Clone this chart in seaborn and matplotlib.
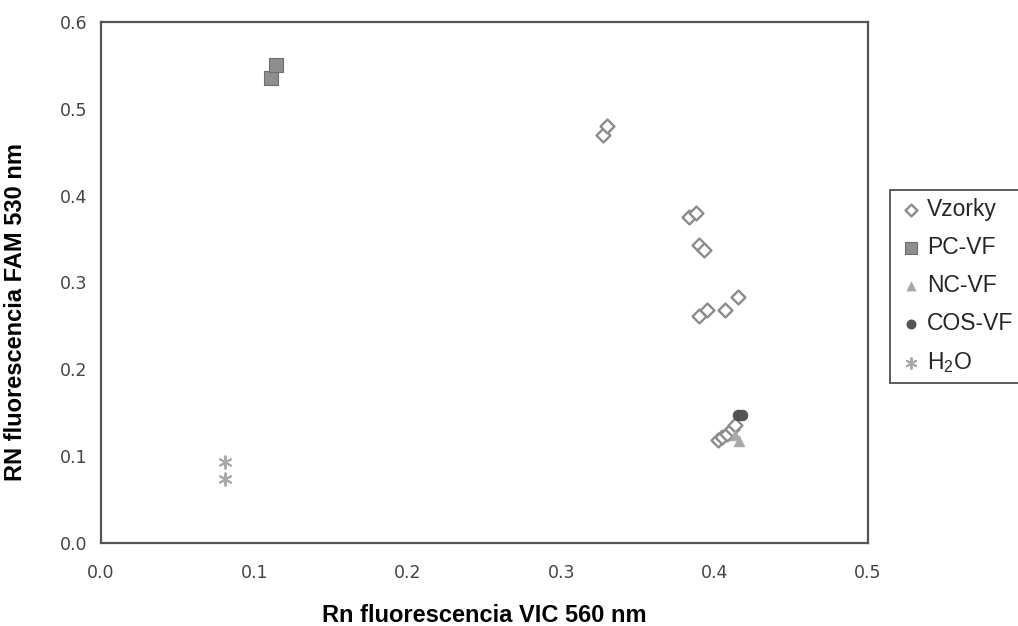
import numpy as np
import pandas as pd
import matplotlib
matplotlib.use("Agg")
import matplotlib.pyplot as plt
import seaborn as sns

# values
vzorky_x = [0.327, 0.330, 0.383, 0.388, 0.390, 0.393, 0.390, 0.395, 0.407, 0.415,
            0.402, 0.405, 0.408, 0.411, 0.413]
vzorky_y = [0.470, 0.480, 0.375, 0.380, 0.343, 0.337, 0.261, 0.268, 0.268, 0.283,
            0.119, 0.122, 0.126, 0.131, 0.136]
pc_x = [0.111, 0.114]
pc_y = [0.535, 0.551]
nc_x = [0.413, 0.416]
nc_y = [0.124, 0.117]
cos_x = [0.415, 0.418]
cos_y = [0.147, 0.147]
h2o_x = [0.081, 0.081]
h2o_y = [0.093, 0.074]

groups = ["Vzorky", "PC-VF", "NC-VF", "COS-VF", "H$_2$O"]
df = pd.concat([
    pd.DataFrame({"x": vzorky_x, "y": vzorky_y, "g": groups[0]}),
    pd.DataFrame({"x": pc_x, "y": pc_y, "g": groups[1]}),
    pd.DataFrame({"x": nc_x, "y": nc_y, "g": groups[2]}),
    pd.DataFrame({"x": cos_x, "y": cos_y, "g": groups[3]}),
    pd.DataFrame({"x": h2o_x, "y": h2o_y, "g": groups[4]}),
], ignore_index=True)

sns.set_style("white")
plt.rcParams["font.family"] = ["DejaVu Sans"]
plt.rcParams["mathtext.fontset"] = "custom"
plt.rcParams["mathtext.rm"] = "Liberation Sans"

fig = plt.figure(figsize=(10.18, 6.26), dpi=100)
ax = fig.add_axes([0.0992, 0.1326, 0.7535, 0.8323])

styles = {
    groups[0]: dict(marker="D", s=50, facecolor="white", edgecolor="#8c8c8c", linewidth=1.7),
    groups[1]: dict(marker="s", s=90, color="#8e8e8e", edgecolor="#6e6e6e", linewidth=0.8),
    groups[2]: dict(marker="^", s=60, color="#a9a9a9", edgecolor="#a9a9a9", linewidth=0.5),
    groups[3]: dict(marker="o", s=60, color="#555555", edgecolor="#444444", linewidth=0.5),
    groups[4]: dict(marker=(6, 2, 0), s=80, color="#a8a8a8", linewidth=1.4),
}
for g in groups:
    sns.scatterplot(data=df[df.g == g], x="x", y="y", ax=ax, label=g, **styles[g])

ticks_x = np.arange(0, 0.51, 0.1)
ticks_y = np.arange(0, 0.61, 0.1)
ax.set_xlim(0, 0.5)
ax.set_ylim(0, 0.6)
ax.set_xticks(ticks_x)
ax.set_yticks(ticks_y)
ax.set_xticklabels([f"{v:.1f}" for v in ticks_x])
ax.set_yticklabels([f"{v:.1f}" for v in ticks_y])
ax.tick_params(direction="in", length=5, width=1.2, colors="#555555",
               labelsize=12.5, labelcolor="#444444")
ax.tick_params(axis="x", pad=15)
ax.tick_params(axis="y", pad=10)
for sp in ax.spines.values():
    sp.set_color("#555555")
    sp.set_linewidth(1.6)

ax.set_xlabel("Rn fluorescencia VIC 560 nm", family="Liberation Sans",
              fontsize=17, fontweight="bold", color="black")
ax.set_ylabel("RN fluorescencia FAM 530 nm", family="Liberation Sans",
              fontsize=17, fontweight="bold", color="black")
ax.xaxis.set_label_coords(0.5, -0.117)
ax.yaxis.set_label_coords(-0.097, 0.443)

leg = ax.legend(loc="upper left", bbox_to_anchor=(1.0287, 0.6775), borderaxespad=0,
                frameon=True, fancybox=False, edgecolor="#333333", handletextpad=0.15,
                handlelength=1.1, labelspacing=0.65, borderpad=0.35,
                prop={"family": "Liberation Sans", "size": 16.5}, markerscale=0.85)
leg.get_frame().set_linewidth(1.4)

fig.savefig("out.png", dpi=100)
